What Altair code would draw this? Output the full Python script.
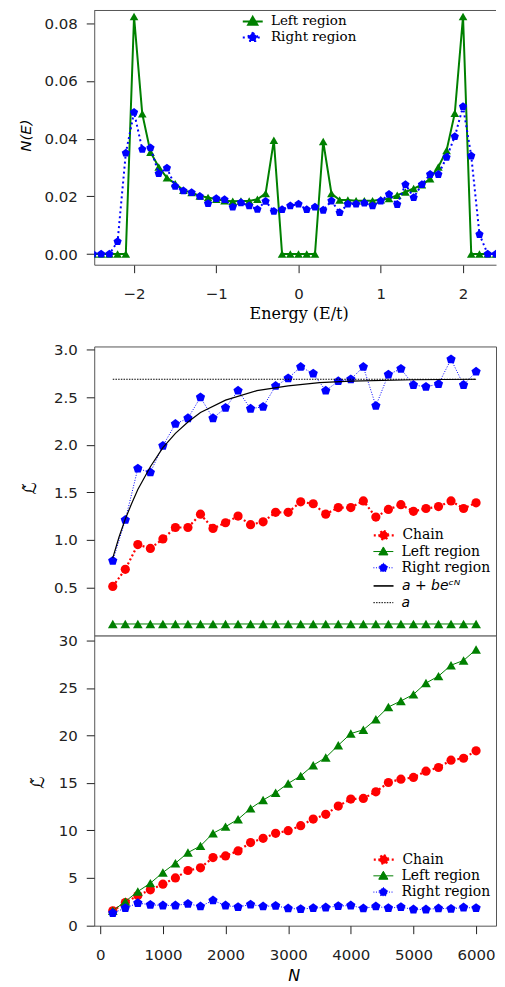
import math
import altair as alt
import pandas as pd

# ---------------- data ----------------
E = [-2.5, -2.4, -2.3, -2.2, -2.1, -2.0, -1.9, -1.8, -1.7, -1.6, -1.5, -1.4, -1.3,
     -1.2, -1.1, -1.0, -0.9, -0.8, -0.7, -0.6, -0.5, -0.4, -0.3, -0.2, -0.1, 0.0,
     0.1, 0.2, 0.3, 0.4, 0.5, 0.6, 0.7, 0.8, 0.9, 1.0, 1.1, 1.2, 1.3, 1.4, 1.5,
     1.6, 1.7, 1.8, 1.9, 2.0, 2.1, 2.2, 2.3, 2.4, 2.5]
dos_left = [0, 0, 0, 0, 0, 0.0823, 0.0486, 0.0353, 0.0302, 0.0264, 0.0244, 0.0221, 0.0213,
            0.0201, 0.0196, 0.0190, 0.0185, 0.0183, 0.0184, 0.0184, 0.0190, 0.0210, 0.0394,
            0, 0, 0, 0, 0,
            0.0390, 0.0210, 0.0187, 0.0187, 0.0185, 0.0185, 0.0185, 0.0188, 0.0192, 0.0204,
            0.0215, 0.0227, 0.0240, 0.0261, 0.0302, 0.0359, 0.0488, 0.0823,
            0, 0, 0, 0, 0]
dos_right = [0, 0, 0, 0.0043, 0.0350, 0.0491, 0.0363, 0.0368, 0.0279, 0.0298, 0.0235, 0.0219,
             0.0213, 0.0200, 0.0175, 0.0192, 0.0189, 0.0163, 0.0178, 0.0167, 0.0155, 0.0183,
             0.0148, 0.0154, 0.0167, 0.0173, 0.0154, 0.0163, 0.0152, 0.0184, 0.0144, 0.0173,
             0.0173, 0.0177, 0.0167, 0.0184, 0.0207, 0.0172, 0.0241, 0.0196, 0.0241, 0.0276,
             0.0276, 0.0335, 0.0407, 0.0511, 0.0340, 0.0068, 0, 0, 0]

N = [200, 400, 600, 800, 1000, 1200, 1400, 1600, 1800, 2000, 2200, 2400, 2600, 2800, 3000,
     3200, 3400, 3600, 3800, 4000, 4200, 4400, 4600, 4800, 5000, 5200, 5400, 5600, 5800, 6000]

mid_chain = [0.51, 0.69, 0.95, 0.91, 1.01, 1.13, 1.13, 1.27, 1.12, 1.18, 1.25, 1.16, 1.19, 1.29,
             1.29, 1.40, 1.38, 1.27, 1.34, 1.34, 1.41, 1.24, 1.32, 1.37, 1.30, 1.33, 1.35, 1.41,
             1.33, 1.39]
mid_left = [0.115] * 30
mid_right = [0.78, 1.21, 1.75, 1.71, 1.99, 2.22, 2.28, 2.50, 2.28, 2.39, 2.57, 2.38, 2.40, 2.62,
             2.70, 2.82, 2.75, 2.57, 2.67, 2.69, 2.82, 2.41, 2.74, 2.80, 2.63, 2.61, 2.64, 2.90,
             2.63, 2.77]
fit_N = [200, 300, 400, 500, 600, 800, 1000, 1200, 1400, 1600, 2000, 2500, 3000, 3500, 4000,
         5000, 6000]
fit_L = [0.81, 1.03, 1.22, 1.38, 1.53, 1.77, 1.97, 2.12, 2.24, 2.34, 2.47, 2.57, 2.62, 2.655,
         2.67, 2.685, 2.69]
a_N = [200, 6000]
a_L = [2.69, 2.69]

bot_chain = [1.54, 2.40, 3.15, 3.75, 4.34, 5.00, 5.78, 6.06, 7.14, 7.32, 7.84, 8.72, 9.17, 9.70,
             9.98, 10.5, 11.2, 11.7, 12.57, 13.3, 13.37, 14.07, 15.05, 15.4, 15.58, 16.24, 16.63,
             17.4, 17.6, 18.38]
bot_left = [1.54, 2.52, 3.57, 4.45, 5.57, 6.55, 7.67, 8.37, 9.70, 10.4, 11.17, 12.32, 13.2, 13.97,
            14.95, 15.75, 16.87, 17.68, 18.97, 20.2, 20.6, 21.7, 23.0, 23.63, 24.33, 25.52, 26.25,
            27.4, 27.9, 29.05]
bot_right = [1.30, 1.82, 2.35, 2.17, 2.10, 2.10, 2.28, 2.00, 2.63, 2.10, 1.93, 2.20, 2.00, 2.07,
             1.79, 1.72, 1.82, 1.89, 2.03, 2.10, 1.79, 2.00, 1.82, 1.93, 1.68, 1.68, 1.79, 1.75,
             1.89, 1.82]

# ---------------- styling ----------------
RED, GREEN, BLUE, BLACK = "#ff0000", "#008000", "#0000ff", "#000000"
FRAME = "#555555"
LTILDE = "\u2112\u0303"


def polygon(n, r, start=-90.0):
    pts = []
    for k in range(n):
        ang = math.radians(start + 360.0 * k / n)
        pts.append(f"{r * math.cos(ang):.3f},{r * math.sin(ang):.3f}")
    return "M" + "L".join(pts) + "Z"


PENT = polygon(5, 1.0)
LINE = "M-1,0H1"
SYM_CIRCLE = LINE + polygon(16, 0.42)
SYM_TRI = LINE + "M0,-0.46L0.46,0.34L-0.46,0.34Z"
SYM_PENT = LINE + polygon(5, 0.45)


def frame(xs, ys, name):
    return pd.DataFrame({"x": xs, "y": ys, "series": name})


def legend(color, sym, lw, dash, cx, cy, size=14, font="DejaVu Serif", style="normal"):
    s = 20 + lw
    kw = dict(title=None, orient="none", legendX=cx - s / 2, legendY=cy - s / 2,
              symbolType=sym, symbolSize=400, symbolStrokeColor=color,
              symbolFillColor=color, symbolStrokeWidth=lw, symbolOpacity=1,
              labelFont=font, labelFontSize=size, labelFontStyle=style,
              labelColor="black", labelOffset=18.3 - s / 2, padding=0, offset=0)
    if dash:
        kw["symbolDash"] = dash
    return alt.Legend(**kw)


def marked(df, enc, color, shape, size, lw, dash, leg, clip=False):
    lm = dict(color=color, strokeWidth=lw, clip=clip)
    if dash:
        lm["strokeDash"] = dash
    line = alt.Chart(df).mark_line(**lm).encode(**enc)
    pts = alt.Chart(df).mark_point(filled=True, shape=shape, size=size, opacity=1,
                                   clip=clip).encode(
        **enc,
        fill=alt.Fill("series:N", scale=alt.Scale(domain=[df["series"][0]], range=[color]),
                      legend=leg))
    return [line, pts]


def plain(df, enc, color, lw, dash, leg):
    lm = dict(strokeWidth=lw)
    if dash:
        lm["strokeDash"] = dash
    return alt.Chart(df).mark_line(**lm).encode(
        **enc,
        stroke=alt.Stroke("series:N", scale=alt.Scale(domain=[df["series"][0]], range=[color]),
                          legend=leg))


XLAB_PAD = 13.5

# ---------------- top panel ----------------
TW, TH = 403, 255
TOP_Y = [-0.0037, 0.0844]
top_enc = dict(
    x=alt.X("x:Q", scale=alt.Scale(domain=[-2.484, 2.401], nice=False, zero=False),
            axis=alt.Axis(values=[-2, -1, 0, 1, 2], format="d", title="Energy (E/t)",
                          domain=True, domainColor=FRAME, labelPadding=XLAB_PAD,
                          titleFont="DejaVu Serif", titleFontSize=16, titleFontWeight="normal",
                          titleX=205, titleY=49, titleAlign="center",
                          titleBaseline="middle")),
    y=alt.Y("y:Q", scale=alt.Scale(domain=TOP_Y, nice=False, zero=False),
            axis=alt.Axis(values=[0, 0.02, 0.04, 0.06, 0.08], format=".2f", title="N(E)",
                          domain=True, domainColor=FRAME,
                          titleFont="DejaVu Sans", titleFontStyle="italic", titleFontSize=15,
                          titleFontWeight="normal", titleAngle=270, titleX=-69, titleY=125,
                          titleAlign="center", titleBaseline="middle")),
)
top_border = alt.Chart(pd.DataFrame({"y": [TOP_Y[1]]})).mark_rule(
    color=FRAME, strokeWidth=1).encode(y=alt.Y("y:Q"))
top_layers = [top_border]
top_layers += marked(frame(E, dos_left, "Left region"), top_enc, GREEN, "triangle-up", 75, 2,
                     None, legend(GREEN, SYM_TRI, 2, None, 159, 11, size=13.5), clip=True)
top_layers += marked(frame(E, dos_right, "Right region"), top_enc, BLUE, PENT, 75, 2,
                     [2, 3], legend(BLUE, SYM_PENT, 2, [2, 3], 159, 27, size=13.5), clip=True)
top = alt.layer(*top_layers).resolve_scale(fill="independent", stroke="independent").properties(
    width=TW, height=TH, view=alt.ViewBackground(stroke="transparent"))

# ---------------- middle panel ----------------
W, MH, BH = 403, 290, 291
NX = alt.Scale(domain=[-96, 6318], nice=False, zero=False)
mid_enc = dict(
    x=alt.X("x:Q", scale=NX, axis=None),
    y=alt.Y("y:Q", scale=alt.Scale(domain=[-0.007, 3.035], nice=False, zero=False),
            axis=alt.Axis(values=[0.5, 1.0, 1.5, 2.0, 2.5, 3.0], format=".1f", title=LTILDE,
                          titleFont="DejaVu Sans", titleFontSize=17, titleFontWeight="normal",
                          titleAngle=270, titleX=-64, titleY=142, titleAlign="center",
                          titleBaseline="middle")),
)
CX = 290
mid_layers = []
mid_layers += marked(frame(N, mid_chain, "Chain"), mid_enc, RED, "circle", 85, 2.2, [2, 2.5],
                     legend(RED, SYM_CIRCLE, 2.2, [2, 2.5], CX, 189))
mid_layers += marked(frame(N, mid_left, "Left region"), mid_enc, GREEN, "triangle-up", 95, 1,
                     None, legend(GREEN, SYM_TRI, 1, None, CX, 205.7))
mid_layers += marked(frame(N, mid_right, "Right region"), mid_enc, BLUE, PENT, 95, 1, [1, 1.6],
                     legend(BLUE, SYM_PENT, 1, [1, 1.6], CX, 222))
mid_layers.append(plain(frame(fit_N, fit_L, "a + be\u1d9c\u1d3a"), mid_enc, BLACK, 1.2, None,
                        legend("#333333", LINE, 1.6, None, CX, 240, size=14,
                               font="DejaVu Sans", style="italic")))
mid_layers.append(plain(frame(a_N, a_L, "a"), mid_enc, BLACK, 1, [1.5, 1.2],
                        legend(BLACK, LINE, 1, [1.5, 1.2], CX, 257, size=14,
                               font="DejaVu Sans", style="italic")))
mid = alt.layer(*mid_layers).resolve_scale(fill="independent", stroke="independent").properties(
    width=W, height=MH)

# ---------------- bottom panel ----------------
bot_enc = dict(
    x=alt.X("x:Q", scale=NX,
            axis=alt.Axis(values=[0, 1000, 2000, 3000, 4000, 5000, 6000], format="d", title="N",
                          labelPadding=XLAB_PAD,
                          titleFont="DejaVu Sans", titleFontStyle="italic", titleFontSize=16,
                          titleFontWeight="normal", titleX=200, titleY=50, titleAlign="center",
                          titleBaseline="middle")),
    y=alt.Y("y:Q", scale=alt.Scale(domain=[-0.03, 30.52], nice=False, zero=False),
            axis=alt.Axis(values=[0, 5, 10, 15, 20, 25, 30], format="d", title=LTILDE,
                          titleFont="DejaVu Sans", titleFontSize=17, titleFontWeight="normal",
                          titleAngle=270, titleX=-56, titleY=147, titleAlign="center",
                          titleBaseline="middle")),
)
bot_layers = []
bot_layers += marked(frame(N, bot_chain, "Chain"), bot_enc, RED, "circle", 85, 2.2, [2, 2.5],
                     legend(RED, SYM_CIRCLE, 2.2, [2, 2.5], CX, 224.3))
bot_layers += marked(frame(N, bot_left, "Left region"), bot_enc, GREEN, "triangle-up", 95, 1,
                     None, legend(GREEN, SYM_TRI, 1, None, CX, 241))
bot_layers += marked(frame(N, bot_right, "Right region"), bot_enc, BLUE, PENT, 95, 1, [1, 1.6],
                     legend(BLUE, SYM_PENT, 1, [1, 1.6], CX, 257.3))
bot = alt.layer(*bot_layers).resolve_scale(fill="independent", stroke="independent").properties(
    width=W, height=BH)

inner = alt.vconcat(mid, bot, spacing=0, bounds="flush")
chart = alt.vconcat(top, inner, spacing=82, bounds="flush").properties(
    padding={"left": 9.5, "top": 0, "right": 0, "bottom": 0}
).configure(background="white").configure_view(
    stroke=FRAME, strokeWidth=1, fill="white"
).configure_axis(
    domain=False, grid=False, ticks=True, tickColor="#222222", tickSize=8, tickWidth=1,
    labelPadding=9, labelFont="DejaVu Sans", labelFontSize=15, labelColor="#222222"
)

chart.save("out.html", embed_options={"renderer": "svg", "actions": False})
